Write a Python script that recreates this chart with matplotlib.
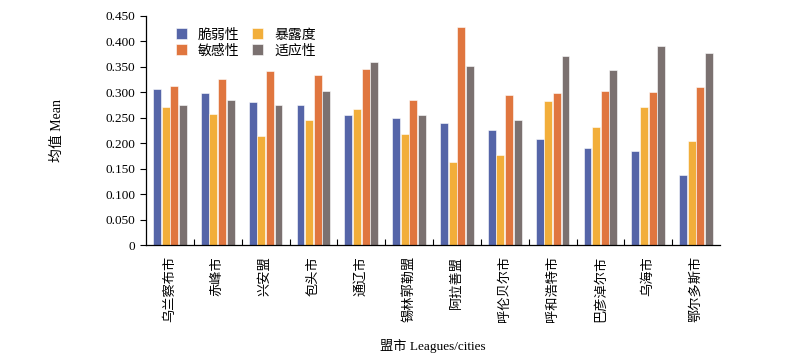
import numpy as np
import matplotlib.pyplot as plt
from matplotlib.ticker import FixedLocator, FuncFormatter

plt.rcParams['font.family'] = ['Liberation Serif', 'Noto Sans CJK SC']

# 盟市
cities = ['乌兰察布市', '赤峰市', '兴安盟', '包头市', '通辽市', '锡林郭勒盟',
          '阿拉善盟', '呼伦贝尔市', '呼和浩特市', '巴彦淖尔市', '乌海市', '鄂尔多斯市']

vulnerability = [0.307, 0.298, 0.281, 0.276, 0.255, 0.249, 0.239, 0.226, 0.208, 0.191, 0.185, 0.138]
exposure      = [0.271, 0.258, 0.215, 0.246, 0.268, 0.219, 0.164, 0.176, 0.282, 0.232, 0.271, 0.204]
sensitivity   = [0.312, 0.326, 0.342, 0.334, 0.346, 0.285, 0.428, 0.295, 0.299, 0.303, 0.301, 0.311]
adaptability  = [0.275, 0.285, 0.275, 0.303, 0.360, 0.255, 0.352, 0.246, 0.372, 0.343, 0.390, 0.378]

series = [('脆弱性', vulnerability, '#5565a8'),
          ('暴露度', exposure, '#f2ae3a'),
          ('敏感性', sensitivity, '#e0763f'),
          ('适应性', adaptability, '#7b7170')]

fig = plt.figure(figsize=(8, 3.62), dpi=100)
ax = fig.add_axes([0.1825, 0.323, 0.7175, 0.633])

x = np.arange(len(cities))
w = 0.165
step = 0.18
for i, (name, vals, col) in enumerate(series):
    ax.bar(x + (i - 1.5) * step, vals, width=w, color=col, edgecolor='white',
           linewidth=0.4, label=name)

ax.set_xlim(-0.5, len(cities) - 0.5)
ax.set_ylim(0, 0.45)
ax.set_yticks(np.arange(0, 0.451, 0.05))
ax.yaxis.set_major_formatter(FuncFormatter(lambda v, p: '0' if v == 0 else f'{v:.3f}'))
ax.tick_params(axis='y', direction='out', length=4, labelsize=9.5, width=0.8)

ax.set_xticks(x)
ax.set_xticklabels(cities, rotation=90, fontsize=9.5, va='top')
ax.tick_params(axis='x', which='major', length=0, pad=8)
ax.xaxis.set_minor_locator(FixedLocator(np.arange(0.5, len(cities) - 0.5, 1)))
ax.tick_params(axis='x', which='minor', direction='in', length=4, width=0.8)

for s in ['top', 'right']:
    ax.spines[s].set_visible(False)
for s in ['left', 'bottom']:
    ax.spines[s].set_linewidth(0.9)

ax.set_ylabel('均值 Mean', fontsize=10, labelpad=30)
ax.set_xlabel('盟市 Leagues/cities', fontsize=9.5, labelpad=12)

# legend order: 脆弱性, 敏感性 | 暴露度, 适应性
h, l = ax.get_legend_handles_labels()
order = [0, 2, 1, 3]
ax.legend([h[k] for k in order], [l[k] for k in order], ncol=2, frameon=False,
          loc='upper left', bbox_to_anchor=(0.03, 1.0), fontsize=10,
          handlelength=0.8, handleheight=0.8, columnspacing=0.9, handletextpad=0.8,
          labelspacing=0.2)

fig.savefig('out.png', dpi=100)
